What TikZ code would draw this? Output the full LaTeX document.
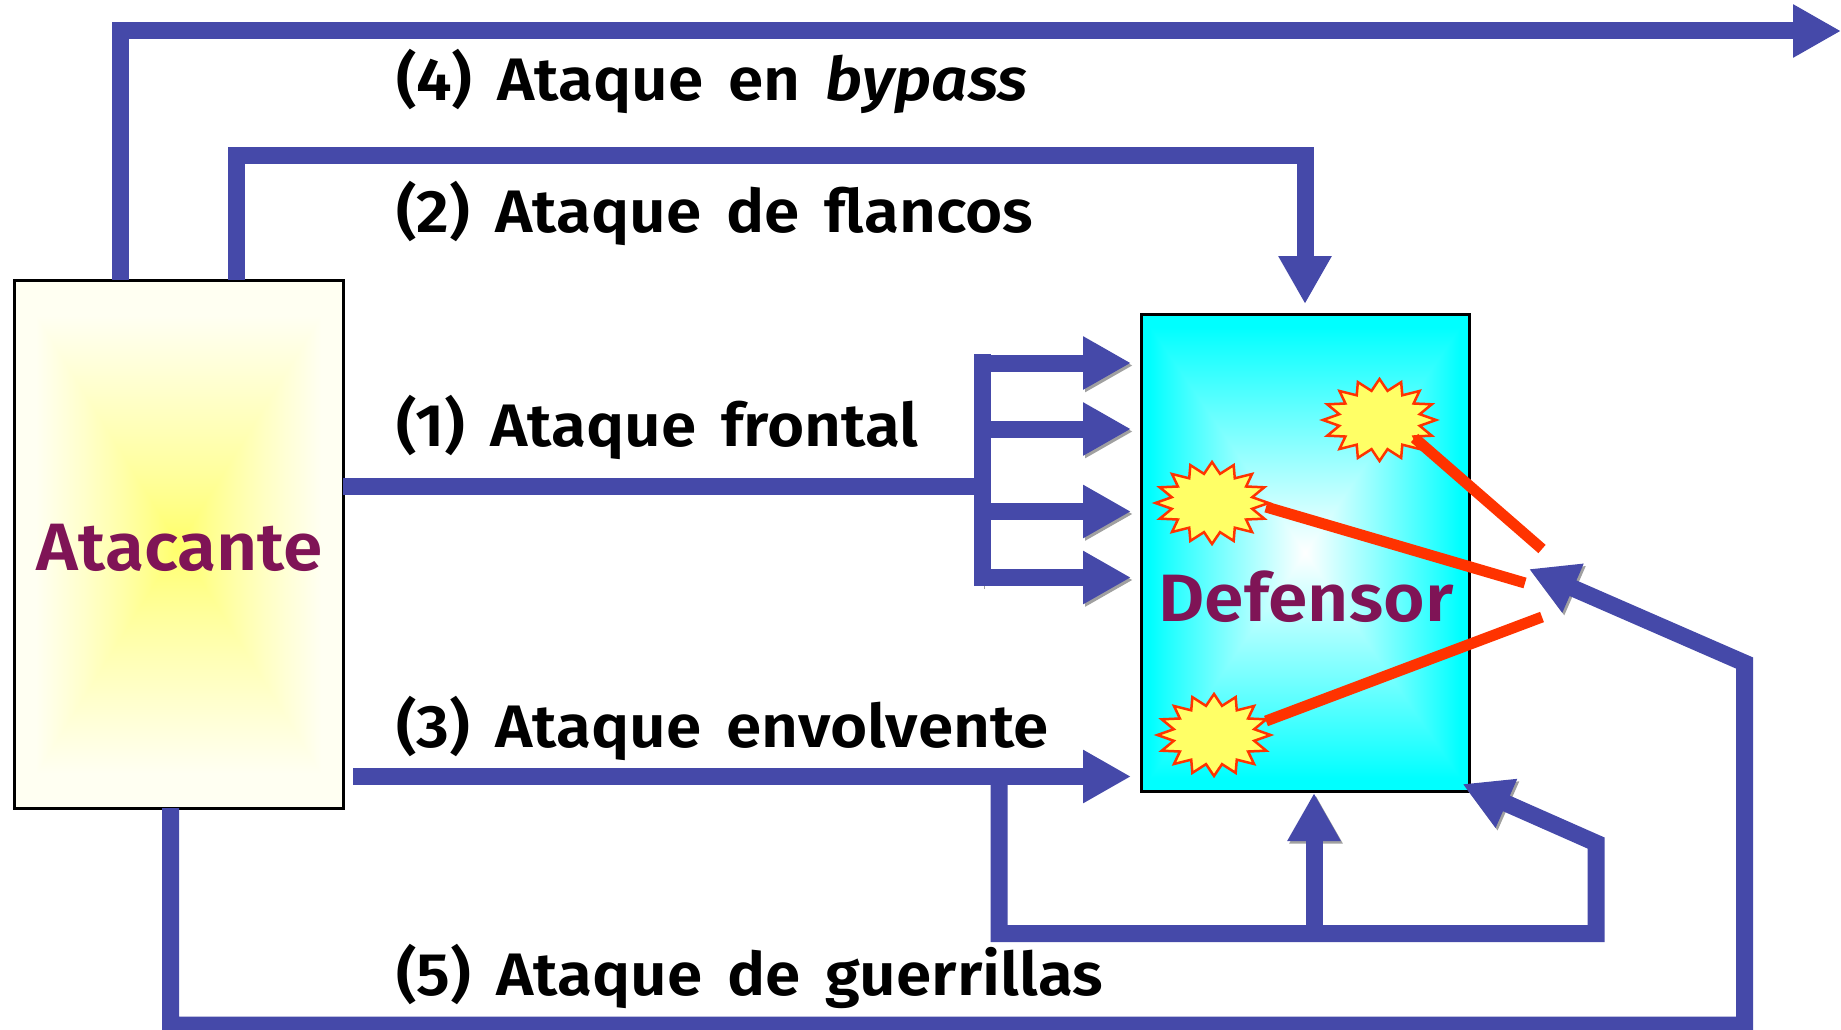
\documentclass[tikz,border=0pt]{standalone}
\usepackage{fontspec}
\setmainfont{Fira Sans}[BoldFont={* SemiBold},BoldItalicFont={* SemiBold Italic},BoldFeatures={FakeStretch=1.065},BoldItalicFeatures={FakeStretch=1.065},WordSpace=1.6]
\usetikzlibrary{arrows.meta,shapes.geometric}
\definecolor{arrowblue}{HTML}{4549A9}
\definecolor{hitred}{HTML}{FF3300}
\definecolor{hitfill}{HTML}{FFFF66}
\definecolor{titlepurple}{HTML}{7F1456}
\definecolor{shadowgray}{HTML}{A0A0A0}
\pgfdeclarefunctionalshading{cyanbox}{\pgfpoint{-50bp}{-50bp}}{\pgfpoint{50bp}{50bp}}{}{
 abs exch abs 2 copy lt {exch} if pop 25 div 1.06 mul dup 1 gt {pop 1} if
 1 exch sub 0.95 exp 1 1
}
\pgfdeclarefunctionalshading{yellowbox}{\pgfpoint{-50bp}{-50bp}}{\pgfpoint{50bp}{50bp}}{}{
 abs exch abs 2 copy lt {exch} if pop 25 div 1.15 mul dup 1 gt {pop 1} if
 0.8 exp 0.55 mul 0.4 add 1 1 3 -1 roll
}
\tikzset{
 x=1pt,y=-1pt,
 boxnode/.style={draw=black,line width=3pt,inner sep=0pt,outer sep=0pt,anchor=north west},
 wire/.style={draw=arrowblue,line width=17pt,line cap=butt,line join=miter},
 head/.style={-{Triangle[length=48pt,width=50pt,fill=arrowblue]}},
 shadowed/.style={preaction={draw=shadowgray,transform canvas={shift={(2pt,-2.5pt)}}}},
 burst/.style={star,star points=16,star point ratio=1.38,draw=hitred,fill=hitfill,line width=2.5pt,minimum size=82pt,inner sep=0pt,outer sep=0pt,xscale=1.38,transform shape},
 hit/.style={draw=hitred,line width=11pt},
 lab/.style={anchor=base west,inner sep=0pt,font=\fontsize{60}{60}\selectfont\bfseries},
 title/.style={inner sep=0pt,text=titlepurple,font=\fontsize{67}{67}\selectfont\bfseries},
}
\begin{document}
\begin{tikzpicture}
\useasboundingbox (0,0) rectangle (1841,1030);
\clip (0,0) rectangle (1841,1030);
\fill[white] (0,0) rectangle (1841,1030);
\node[boxnode,shading=yellowbox,minimum width=329pt,minimum height=528pt] (atk) at (14,280.5) {};
\node[boxnode,shading=cyanbox,minimum width=328pt,minimum height=477pt] (def) at (1141,314) {};
\node[title] (atkname) at (180,548) {Atacante};
\node[title] (defname) at (1306,597) {Defensor};

\node[burst] (s1) at (1379.5,420) {};
\node[burst] (s2) at (1212,503) {};
\node[burst] (s3) at (1214,735) {};

\coordinate (t4a) at (120.5,280);
\coordinate (t4b) at (120.5,31);
\coordinate (t4c) at (1841,31);
\draw[wire,head] (t4a) -- (t4b) -- (t4c);
\coordinate (t2a) at (236.5,280);
\coordinate (t2b) at (236.5,155);
\coordinate (t2c) at (1305,155);
\coordinate (t2d) at (1305,304);
\draw[wire,head] (t2a) -- (t2b) -- (t2c) -- (t2d);

\coordinate (busT) at (982.5,354);
\coordinate (busB) at (982.5,586);
\coordinate (bus1) at (982.5,486);
\draw[wire] (atk.east |- bus1) -- (bus1);
\draw[wire,shadowed] (busT) -- (busB);
\foreach \yy/\nm in {363/a,429/b,511.5/c,577.5/d}{
 \coordinate (f\nm) at (982.5,\yy);
 \coordinate (g\nm) at (1131,\yy);
 \draw[wire,head,shadowed] (f\nm) -- (g\nm);
}

\coordinate (e0) at (353,776.5);
\coordinate (e1) at (1131,776.5);
\draw[wire,head] (e0) -- (e1);
\coordinate (e2) at (999,776.5);
\coordinate (e3) at (999,933.5);
\coordinate (e4) at (1596,933.5);
\coordinate (e5) at (1596,843);
\coordinate (e6) at (1462.5,784);
\coordinate (e7) at (1314,933.5);
\coordinate (e8) at (1314,793);
\draw[wire,head,shadowed] (e7) -- (e8);
\draw[wire,head,shadowed] (e2) -- (e3) -- (e4) -- (e5) -- (e6);

\coordinate (g0) at (170.5,808);
\coordinate (g1) at (170.5,1025);
\coordinate (g2) at (1744.5,1025);
\coordinate (g3) at (1744.5,663);
\coordinate (g4) at (1529,569);
\draw[wire,head,shadowed] (g0) -- (g1) -- (g2) -- (g3) -- (g4);

\coordinate (h1) at (1542,549);
\coordinate (h2) at (1525,583);
\coordinate (h3) at (1542,617);
\draw[hit] (s1.center) ++(35,18) -- (h1);
\draw[hit] (s2.center) ++(54,4) -- (h2);
\draw[hit] (s3.center) ++(52,-14) -- (h3);

\node[lab] (l4) at (396,101) {(4) Ataque en \textit{bypass}};
\node[lab] (l2) at (396,232) {(2) Ataque de flancos};
\node[lab] (l1) at (396,446) {(1) Ataque frontal};
\node[lab] (l3) at (396,747) {(3) Ataque envolvente};
\node[lab] (l5) at (396,995) {(5) Ataque de guerrillas};
\end{tikzpicture}
\end{document}
